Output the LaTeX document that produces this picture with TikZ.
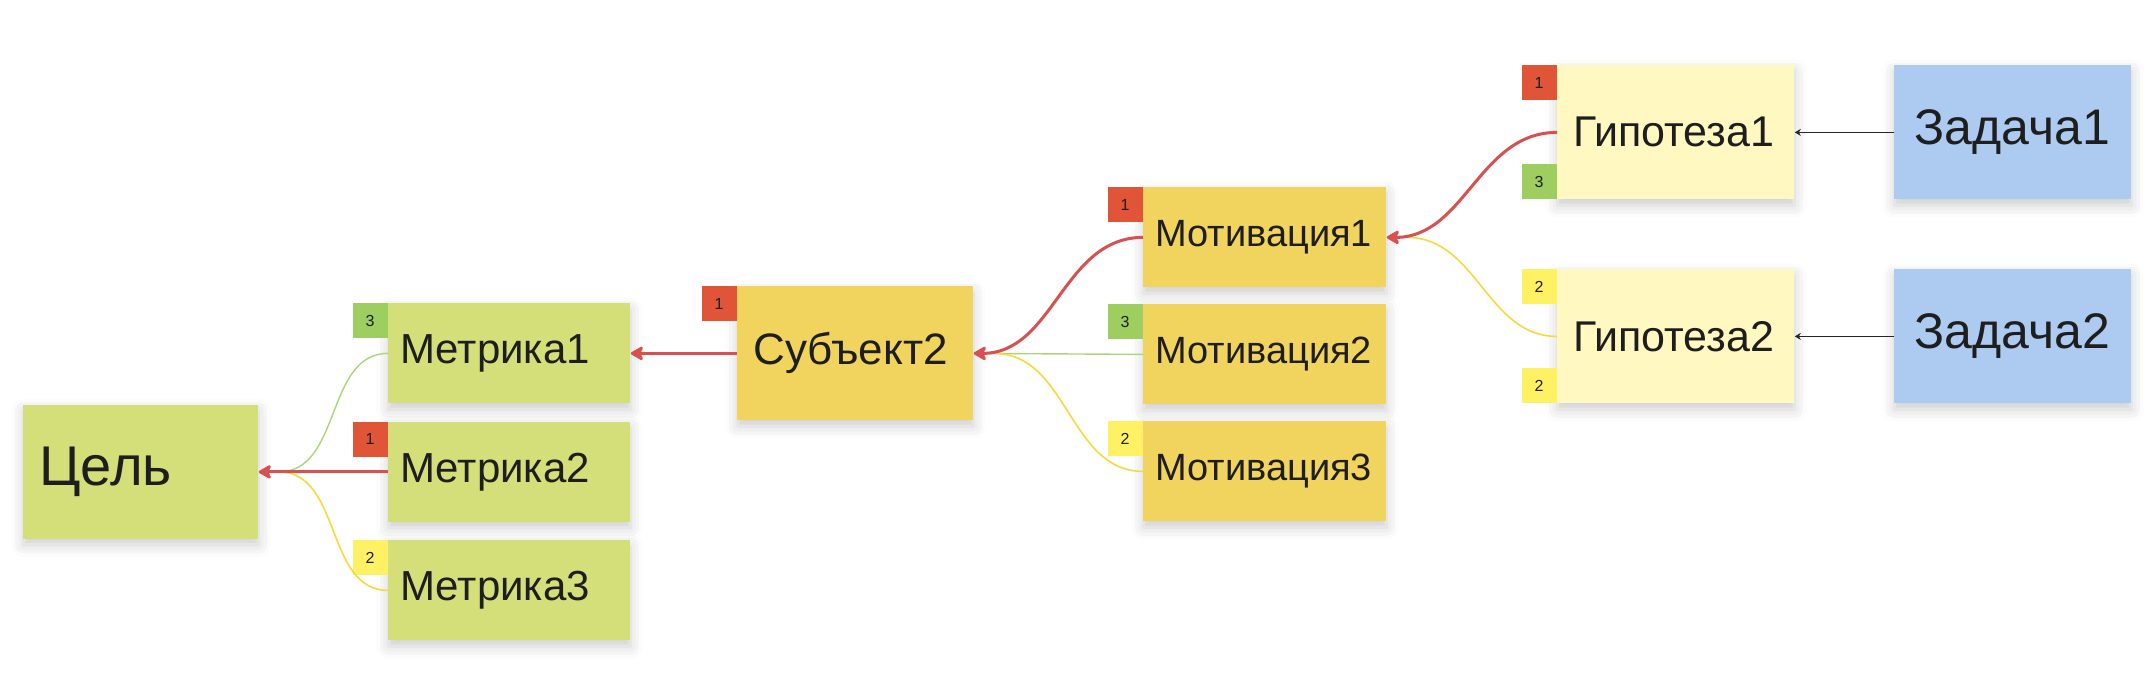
\documentclass[tikz,border=0pt]{standalone}
\usepackage{fontspec}
\setmainfont{Liberation Sans}
\usetikzlibrary{arrows.meta,shadows.blur}
\definecolor{boxgreen}{HTML}{D4DF7A}
\definecolor{boxorange}{HTML}{F1D45E}
\definecolor{boxlight}{HTML}{FFF9C1}
\definecolor{boxblue}{HTML}{ADCBF1}
\definecolor{badgered}{HTML}{E05437}
\definecolor{badgegreen}{HTML}{9DCE5F}
\definecolor{badgeyellow}{HTML}{FEF264}
\definecolor{linered}{HTML}{D85050}
\definecolor{linegreen}{HTML}{AAD678}
\definecolor{lineyellow}{HTML}{F7D93C}
\definecolor{textc}{HTML}{1E1E1E}
\begin{document}
\begin{tikzpicture}[x=0.5pt,y=-0.5pt,
  sticky/.style={rectangle, anchor=north west, inner ysep=0pt, align=left, text=textc,
    blur shadow={shadow xshift=0pt,shadow yshift=-3pt,shadow blur radius=6pt,shadow opacity=20}},
  greenbox/.style={sticky, fill=boxgreen},
  orangebox/.style={sticky, fill=boxorange},
  lightbox/.style={sticky, fill=boxlight},
  bluebox/.style={sticky, fill=boxblue},
  badge/.style={rectangle, minimum size=17.5pt, inner sep=0pt, text=textc, font=\fontsize{8}{9}\selectfont},
  redarrow/.style={draw=linered, line width=1.5pt, -{Stealth[length=7.5pt,width=8.5pt,inset=2pt,round]}},
  greenline/.style={draw=linegreen, line width=0.7pt},
  yellowline/.style={draw=lineyellow, line width=0.8pt},
  blackarrow/.style={draw=black!85, line width=0.5pt, -{Stealth[length=3pt,width=3.5pt]}}
]
\useasboundingbox (0,0) rectangle (2152,688);

% Goal
\node[greenbox, minimum height=67pt, inner xsep=8pt, text width=101.5pt, font=\fontsize{28}{30}\selectfont] (cel) at (23,404.5) {Цель};
% Metrics
\node[greenbox, minimum height=50pt, inner xsep=6pt, text width=109pt, font=\fontsize{21}{23}\selectfont] (m1) at (388,303) {Метрика1};
\node[greenbox, minimum height=50pt, inner xsep=6pt, text width=109pt, font=\fontsize{21}{23}\selectfont] (m2) at (388,421.5) {Метрика2};
\node[greenbox, minimum height=50pt, inner xsep=6pt, text width=109pt, font=\fontsize{21}{23}\selectfont] (m3) at (388,540) {Метрика3};
% Subject
\node[orangebox, minimum height=67pt, inner xsep=8pt, text width=102pt, font=\fontsize{22}{24}\selectfont] (sub) at (737,286) {Субъект2};
% Motivations
\node[orangebox, minimum height=50pt, inner xsep=6pt, text width=109.5pt, font=\fontsize{19}{21}\selectfont] (mo1) at (1143,187) {Мотивация1};
\node[orangebox, minimum height=50pt, inner xsep=6pt, text width=109.5pt, font=\fontsize{19}{21}\selectfont] (mo2) at (1143,304) {Мотивация2};
\node[orangebox, minimum height=50pt, inner xsep=6pt, text width=109.5pt, font=\fontsize{19}{21}\selectfont] (mo3) at (1143,421) {Мотивация3};
% Hypotheses
\node[lightbox, minimum height=67pt, inner xsep=8pt, text width=102.5pt, font=\fontsize{21.5}{23}\selectfont] (g1) at (1557,65) {Гипотеза1};
\node[lightbox, minimum height=67pt, inner xsep=8pt, text width=102.5pt, font=\fontsize{21.5}{23}\selectfont] (g2) at (1557,269) {Гипотеза2};
% Tasks
\node[bluebox, minimum height=67pt, inner xsep=10pt, text width=98.5pt, font=\fontsize{25}{27}\selectfont] (z1) at (1894,65) {Задача1};
\node[bluebox, minimum height=67pt, inner xsep=10pt, text width=98.5pt, font=\fontsize{25}{27}\selectfont] (z2) at (1894,269) {Задача2};

% Badges
\node[badge, fill=badgegreen, anchor=north east] (bm1) at (m1.north west) {3};
\node[badge, fill=badgered, anchor=north east] (bm2) at (m2.north west) {1};
\node[badge, fill=badgeyellow, anchor=north east] (bm3) at (m3.north west) {2};
\node[badge, fill=badgered, anchor=north east] (bsub) at (sub.north west) {1};
\node[badge, fill=badgered, anchor=north east] (bmo1) at (mo1.north west) {1};
\node[badge, fill=badgegreen, anchor=north east] (bmo2) at (mo2.north west) {3};
\node[badge, fill=badgeyellow, anchor=north east] (bmo3) at (mo3.north west) {2};
\node[badge, fill=badgered, anchor=north east] (bg1a) at (g1.north west) {1};
\node[badge, fill=badgegreen, anchor=south east] (bg1b) at (g1.south west) {3};
\node[badge, fill=badgeyellow, anchor=north east] (bg2a) at (g2.north west) {2};
\node[badge, fill=badgeyellow, anchor=south east] (bg2b) at (g2.south west) {2};

% Join points
\coordinate (celin) at ([xshift=10pt]cel.east);
\coordinate (subin) at ([xshift=10pt]sub.east);
\coordinate (mo1in) at ([xshift=10pt]mo1.east);

% Connectors to goal
\draw[greenline] (m1.west) to[out=180,in=0] (celin) -- (cel.east);
\draw[yellowline] (m3.west) to[out=180,in=0] (celin) -- (cel.east);
\draw[redarrow] (m2.west) -- (cel.east);
% Subject to metric
\draw[redarrow] (sub.west) -- (m1.east);
% Motivations to subject
\draw[greenline] (mo2.west) -- (sub.east);
\draw[yellowline] (mo3.west) to[out=180,in=0] (subin) -- (sub.east);
\draw[redarrow] (mo1.west) to[out=180,in=0] (sub.east);
% Hypotheses to motivation
\draw[yellowline] (g2.west) to[out=180,in=0] (mo1in) -- (mo1.east);
\draw[redarrow] (g1.west) to[out=180,in=0] (mo1.east);
% Tasks to hypotheses
\draw[blackarrow] (z1.west) -- (g1.east);
\draw[blackarrow] (z2.west) -- (g2.east);
\end{tikzpicture}
\end{document}
